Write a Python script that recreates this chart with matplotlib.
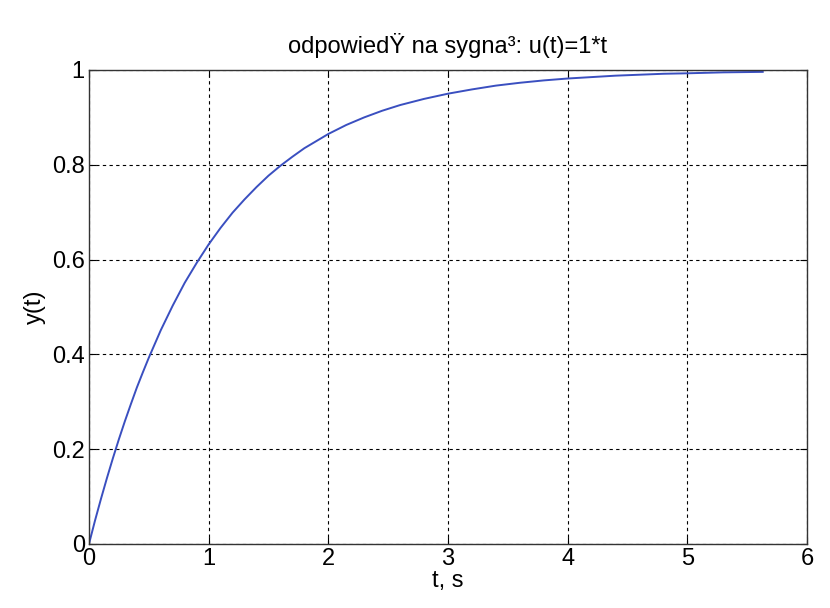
import matplotlib
matplotlib.use("Agg")
import matplotlib.pyplot as plt

t_vals = [0, 0.05, 0.1, 0.15, 0.2, 0.25, 0.3, 0.35, 0.4, 0.45, 0.5, 0.6, 0.7,
          0.8, 0.9, 1.0, 1.1, 1.2, 1.3, 1.4, 1.5, 1.6, 1.7, 1.8, 1.9, 2.0,
          2.15, 2.3, 2.45, 2.6, 2.8, 3.0, 3.2, 3.4, 3.6, 3.8, 4.0, 4.2, 4.4,
          4.6, 4.8, 5.0, 5.3, 5.63]
y_vals = [0, 0.049, 0.095, 0.139, 0.181, 0.221, 0.259, 0.295, 0.330, 0.362,
          0.393, 0.451, 0.503, 0.551, 0.593, 0.632, 0.667, 0.699, 0.727, 0.753,
          0.777, 0.798, 0.817, 0.835, 0.850, 0.865, 0.884, 0.900, 0.914, 0.926,
          0.939, 0.950, 0.959, 0.967, 0.973, 0.978, 0.982, 0.985, 0.988, 0.990,
          0.992, 0.993, 0.995, 0.996]
x_ticks = [0, 1, 2, 3, 4, 5, 6]
y_ticks = [0, 0.2, 0.4, 0.6, 0.8, 1]
y_tick_labels = ["0", "0.2", "0.4", "0.6", "0.8", "1"]
title = "odpowiedŸ na sygna³: u(t)=1*t"

plt.rcParams['font.family'] = ['Liberation Sans', 'DejaVu Sans']

fig = plt.figure(figsize=(8.3, 6.08), dpi=100)
ax = fig.add_axes([0.1072, 0.1053, 0.8651, 0.7796])
ax.plot(t_vals, y_vals, color='#3a4fc0', linewidth=1.4)
ax.set_xlim(0, 6)
ax.set_ylim(0, 1)
ax.set_xticks(x_ticks)
ax.set_yticks(y_ticks)
ax.set_yticklabels(y_tick_labels)
ax.grid(True, color='black', linestyle=(0, (3, 3)), linewidth=0.8)
ax.tick_params(direction='in', labelsize=17, top=True, right=True, length=5, pad=3)
for s in ax.spines.values():
    s.set_linewidth(1.0)
    s.set_color('#333333')
ax.set_title(title, fontsize=17, pad=12)
ax.set_xlabel("t, s", fontsize=17, labelpad=0)
ax.set_ylabel("y(t)", fontsize=17, labelpad=4)
fig.savefig("out.png", dpi=100)
